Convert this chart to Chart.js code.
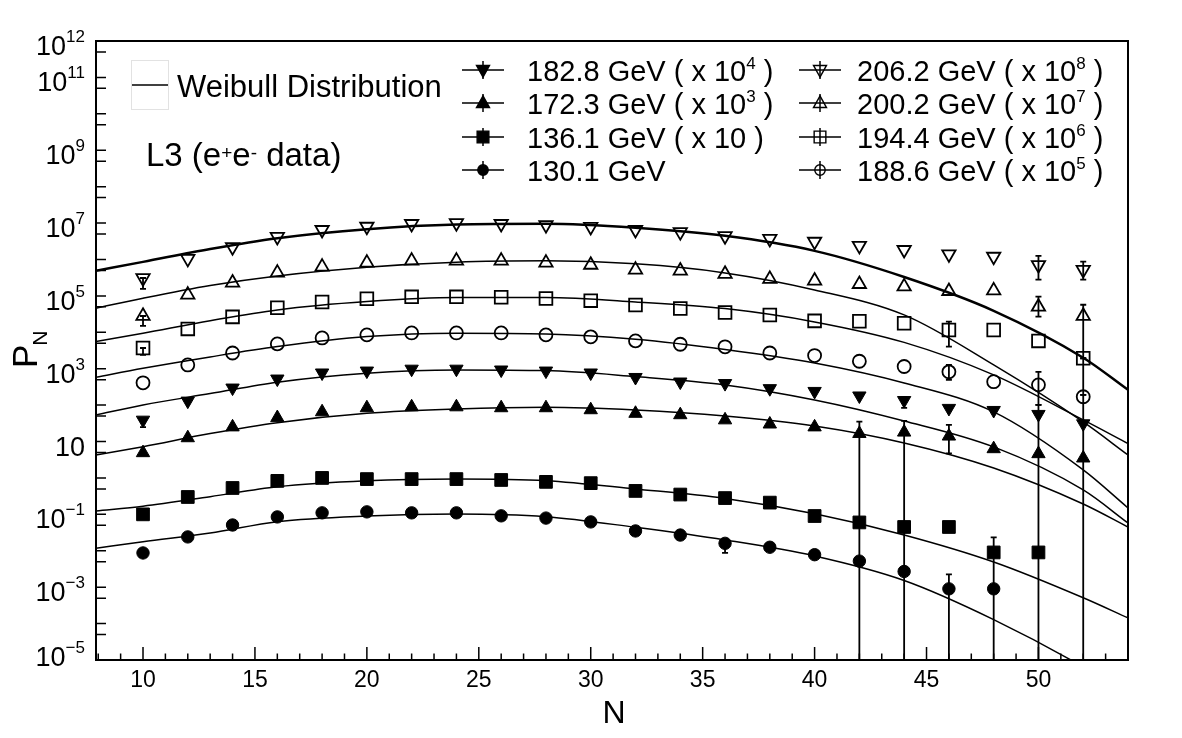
<!DOCTYPE html>
<html>
<head>
<meta charset="utf-8">
<script src="https://cdn.jsdelivr.net/npm/chart.js@4.4.0/dist/chart.umd.min.js"></script>
<style>
  html, body { margin: 0; padding: 0; background: #fff; }
  #wrap { width: 1182px; height: 738px; }
</style>
</head>
<body>
<div id="wrap"><canvas id="chartPN" width="1182" height="738"></canvas></div>
<script>
// multiplicity bins (data points)
const nValues = [10, 12, 14, 16, 18, 20, 22, 24, 26, 28, 30, 32, 34, 36, 38, 40, 42, 44, 46, 48, 50, 52];

// P(N), already multiplied by the legend factor
const p130 = [0.0087, 0.024, 0.051, 0.085, 0.11, 0.117, 0.11, 0.11, 0.091, 0.079, 0.062, 0.035, 0.027, 0.016, 0.0125, 0.0078, 0.0052, 0.0027, 0.0009, 0.0009, null, null];
const p136 = [0.10, 0.30, 0.53, 0.83, 1.0, 0.93, 0.93, 0.93, 0.88, 0.78, 0.72, 0.44, 0.35, 0.28, 0.21, 0.09, 0.06, 0.045, 0.045, 0.009, 0.009, null];
const p172 = [4.9, 12.6, 25, 45, 65, 84, 89, 89, 84, 84, 74, 59, 54, 39, 30, 25, 16.5, 18, 14, 6.3, 4.6, 3.5];
const p182 = [39, 130, 297, 525, 770, 870, 980, 980, 930, 870, 770, 580, 435, 395, 286, 240, 180, 135, 82, 72, 56, 31];
const p188 = [410, 1270, 2700, 4800, 7000, 8500, 9600, 9600, 9600, 8500, 7500, 5800, 4700, 4000, 2700, 2300, 1600, 1150, 820, 440, 360, 170];
const p194 = [3700, 12400, 26500, 47000, 68000, 83000, 94000, 94000, 92000, 85000, 74000, 56000, 45000, 35000, 30000, 20600, 20000, 17800, 11600, 11600, 5800, 1940];
const p200 = [2.8e4, 1.07e5, 2.3e5, 4.3e5, 6.3e5, 8.1e5, 9.2e5, 9.2e5, 9.2e5, 8.1e5, 7.1e5, 5.2e5, 4.9e5, 4.0e5, 2.9e5, 2.6e5, 2.1e5, 1.8e5, 1.35e5, 1.4e5, 5.0e4, 2.8e4];
const p206 = [3.1e5, 1.05e6, 2.2e6, 4.2e6, 6.5e6, 8.0e6, 9.5e6, 1.0e7, 9.5e6, 8.9e6, 7.9e6, 6.5e6, 5.7e6, 4.4e6, 3.7e6, 3.1e6, 2.4e6, 1.84e6, 1.4e6, 1.2e6, 7.1e5, 5.2e5];

// Weibull curves
const fitN = [7.9, 10, 13, 16, 20, 24, 28, 32, 36, 40, 44, 48, 52, 54];
const fit130 = [0.0117, 0.0178, 0.0308, 0.063, 0.0904, 0.1026, 0.0865, 0.044, 0.0198, 0.0072, 0.00153, 1.29e-4, 6.42e-6, 1.09e-6];
const fit136 = [0.124, 0.167, 0.306, 0.577, 0.843, 0.940, 0.843, 0.499, 0.274, 0.104, 0.0272, 0.00492, 5.12e-4, 1.43e-4];
const fit172 = [4.28, 7.24, 16.5, 33.0, 59.9, 78.7, 87.5, 73.8, 50.5, 26.8, 9.16, 1.88, 0.193, 0.045];
const fit182 = [53.8, 101, 207, 426, 752, 927, 887, 607, 359, 139, 36.8, 7.11, 0.468, 0.058];
const fit188 = [585, 1030, 2110, 4050, 7620, 9440, 9040, 6460, 3390, 1440, 407, 65, 1.66, 0.15];
const fit194 = [5560, 9440, 20800, 41200, 69700, 89800, 89800, 68400, 44800, 19300, 5280, 676, 39.2, 8.81];
const fit200 = [4.59e4, 8.65e4, 1.94e5, 3.54e5, 6.14e5, 8.43e5, 9.16e5, 7.57e5, 4.28e5, 1.46e5, 3.0e4, 1270, 34.5, 4.28];
const fit206 = [4.9e5, 8.6e5, 1.95e6, 3.85e6, 6.8e6, 9.1e6, 9.5e6, 7.4e6, 4.45e6, 1.72e6, 3.3e5, 3.9e4, 2000, 263];

// visible error bars: [N, low, high]  (1e-6 = runs below the axis)
const err130 = [[36, 0.0087, 0.021], [46, 1e-6, 0.00226]];
const err136 = [[48, 1e-6, 0.0232]];
const err172 = [[42, 1e-6, 35], [44, 1e-6, 37], [46, 4.7, 28.6]];
const err182 = [[10, 25, 39], [44, 84, 168], [50, 1e-6, 101], [52, 1e-6, 31]];
const err188 = [[46, 492, 1270], [50, 101, 817], [52, 31, 191]];
const err194 = [[10, 2400, 3700], [46, 4050, 19700], [52, 190, 1940]];
const err200 = [[10, 1.5e4, 2.8e4], [50, 2.7e4, 9.5e4], [52, 1940, 5.7e4]];
const err206 = [[10, 1.55e5, 3.1e5], [50, 2.8e5, 1.26e6], [52, 2.8e5, 8.7e5]];

const energies = ['130.1', '136.1', '172.3', '182.8', '188.6', '194.4', '200.2', '206.2'];
const scaleExp = [0, 1, 3, 4, 5, 6, 7, 8];

const yLabelExp = [12, 11, 9, 7, 5, 3, 1, -1, -3, -5];
const xLabels = [10, 15, 20, 25, 30, 35, 40, 45, 50];

const FONT = '"Liberation Sans", Arial, Helvetica, sans-serif';

// marker look per energy (same order as energies)
const markers = [
  { kind: 'circle', filled: true },
  { kind: 'square', filled: true },
  { kind: 'up', filled: true },
  { kind: 'down', filled: true },
  { kind: 'circle', filled: false },
  { kind: 'square', filled: false },
  { kind: 'up', filled: false },
  { kind: 'down', filled: false }
];

const points = [p130, p136, p172, p182, p188, p194, p200, p206];
const fits = [fit130, fit136, fit172, fit182, fit188, fit194, fit200, fit206];
const errs = [err130, err136, err172, err182, err188, err194, err200, err206];

const toXY = (xs, ys) => xs.map((x, i) => ({ x: x, y: ys[i] })).filter(p => p.y != null);

const pointStyleOf = m => {
  if (m.kind === 'circle') return { pointStyle: 'circle', pointRadius: m.filled ? 6.2 : 6.5, pointRotation: 0 };
  if (m.kind === 'square') return { pointStyle: 'rect', pointRadius: 9, pointRotation: 0 };
  return { pointStyle: 'triangle', pointRadius: 7.7, pointRotation: m.kind === 'down' ? 180 : 0 };
};

const datasets = [];
points.forEach((ys, i) => {
  const m = markers[i];
  const st = pointStyleOf(m);
  datasets.push({
    label: energies[i] + ' GeV',
    data: toXY(nValues, ys),
    showLine: false,
    order: 1,
    pointStyle: st.pointStyle,
    pointRadius: st.pointRadius,
    pointRotation: st.pointRotation,
    pointBackgroundColor: m.filled ? '#000' : 'rgba(0,0,0,0)',
    pointBorderColor: '#000',
    pointBorderWidth: m.filled ? 1 : 1.8
  });
});
fits.forEach((ys, i) => {
  datasets.push({
    type: 'line',
    label: 'Weibull ' + energies[i],
    data: toXY(fitN, ys),
    order: 2,
    borderColor: '#000',
    borderWidth: i === 7 ? 2.5 : 1.5,
    pointRadius: 0,
    fill: false,
    cubicInterpolationMode: 'monotone'
  });
});

const errorBars = [].concat(...errs);

function drawRich(c, parts, x, y, size, supSize, supRise, align) {
  let total = 0;
  const widths = parts.map(([t, sup]) => {
    c.font = (sup ? supSize : size) + 'px ' + FONT;
    const w = c.measureText(t).width;
    total += w;
    return w;
  });
  let cx = align === 'right' ? x - total : (align === 'center' ? x - total / 2 : x);
  parts.forEach(([t, sup], i) => {
    c.font = (sup ? supSize : size) + 'px ' + FONT;
    c.fillText(t, cx, sup ? y - supRise : y);
    cx += widths[i];
  });
}

function drawMarker(c, m, x, y, s) {
  c.beginPath();
  if (m.kind === 'circle') {
    c.arc(x, y, s * 0.8, 0, Math.PI * 2);
  } else if (m.kind === 'square') {
    c.rect(x - s * 0.9, y - s * 0.9, 1.8 * s, 1.8 * s);
  } else {
    const d = m.kind === 'down' ? -1 : 1;
    c.moveTo(x, y - d * s * 1.1);
    c.lineTo(x + s, y + d * s * 0.7);
    c.lineTo(x - s, y + d * s * 0.7);
    c.closePath();
  }
  if (m.filled) { c.fillStyle = '#000'; c.fill(); }
  c.lineWidth = 1.4;
  c.strokeStyle = '#000';
  c.stroke();
}

const errorBarPlugin = {
  id: 'errorBars',
  beforeDatasetsDraw(chart) {
    const { ctx: c, chartArea: a, scales: { x, y } } = chart;
    c.save();
    c.beginPath();
    c.rect(a.left, a.top, a.right - a.left, a.bottom - a.top);
    c.clip();
    c.strokeStyle = '#000';
    c.lineWidth = 1.8;
    errorBars.forEach(([n, lo, hi]) => {
      const px = x.getPixelForValue(n);
      const p1 = y.getPixelForValue(lo);
      const p2 = y.getPixelForValue(hi);
      c.beginPath();
      c.moveTo(px, p1); c.lineTo(px, p2);
      c.moveTo(px - 3, p1); c.lineTo(px + 3, p1);
      c.moveTo(px - 3, p2); c.lineTo(px + 3, p2);
      c.stroke();
    });
    c.restore();
  }
};

const framePlugin = {
  id: 'frame',
  afterDatasetsDraw(chart) {
    const { ctx: c, chartArea: a, scales: { x, y } } = chart;
    c.save();
    c.strokeStyle = '#000';
    c.lineWidth = 2;
    c.strokeRect(a.left, a.top, a.right - a.left, a.bottom - a.top);

    c.lineWidth = 1.5;
    c.beginPath();
    for (let n = Math.ceil(x.min); n <= x.max; n++) {
      const px = x.getPixelForValue(n);
      const len = n % 5 === 0 ? 13 : 6.5;
      c.moveTo(px, a.bottom); c.lineTo(px, a.bottom - len);
    }
    for (let e = -5; e <= 12; e++) {
      [1, 5].forEach(m => {
        const v = m * Math.pow(10, e);
        if (v < y.min * 0.999 || v > y.max * 1.001) return;
        const py = y.getPixelForValue(v);
        c.moveTo(a.left, py); c.lineTo(a.left + 10, py);
      });
    }
    c.stroke();

    c.fillStyle = '#000';
    c.textBaseline = 'alphabetic';
    // y labels
    yLabelExp.forEach(e => {
      const py = y.getPixelForValue(Math.pow(10, e));
      const base = e === -5 ? py + 6 : py + 14;
      const parts = [['10', false]];
      if (e !== 1) parts.push([e < 0 ? '\u2212' + (-e) : String(e), true]);
      drawRich(c, parts, 85, base, 27, 17, 13, 'right');
    });
    // x labels
    xLabels.forEach(n => {
      drawRich(c, [[String(n), false]], x.getPixelForValue(n), 687, 23, 14, 0, 'center');
    });
    // axis titles
    drawRich(c, [['N', false]], 614, 723, 32, 20, 0, 'center');
    c.save();
    c.translate(37, 368);
    c.rotate(-Math.PI / 2);
    c.font = '35px ' + FONT;
    c.fillText('P', 0, 0);
    const pw = c.measureText('P').width;
    c.font = '21px ' + FONT;
    c.fillText('N', pw - 1, 10);
    c.restore();
    c.restore();
  }
};

const legendPlugin = {
  id: 'legendBox',
  afterDraw(chart) {
    const c = chart.ctx;
    c.save();
    c.textBaseline = 'alphabetic';
    c.fillStyle = '#000';
    // Weibull entry
    c.strokeStyle = '#e2e2e2';
    c.lineWidth = 1;
    c.strokeRect(131.5, 60.5, 37, 49);
    c.strokeStyle = '#000';
    c.lineWidth = 1.5;
    c.beginPath(); c.moveTo(132, 85); c.lineTo(168, 85); c.stroke();
    drawRich(c, [['Weibull Distribution', false]], 177, 97, 31, 17, 0, 'left');
    drawRich(c, [['L3 (e', false], ['+', true], ['e', false], ['-', true], [' data)', false]], 146, 166, 33, 19, 7, 'left');

    // energy entries: two columns, high factor first
    const col1 = [3, 2, 1, 0];
    const col2 = [7, 6, 5, 4];
    const rowY = [70, 103, 137, 170];
    const drawEntry = (idx, mx, tx, ry) => {
      c.strokeStyle = '#000';
      c.lineWidth = 1.5;
      c.beginPath();
      c.moveTo(mx - 21, ry); c.lineTo(mx + 21, ry);
      c.moveTo(mx, ry - 9); c.lineTo(mx, ry + 9);
      c.stroke();
      drawMarker(c, markers[idx], mx, ry, 6.5);
      c.fillStyle = '#000';
      const k = scaleExp[idx];
      let parts;
      if (k === 0) parts = [[energies[idx] + ' GeV', false]];
      else if (k === 1) parts = [[energies[idx] + ' GeV ( x 10 )', false]];
      else parts = [[energies[idx] + ' GeV ( x 10', false], [String(k), true], [' )', false]];
      drawRich(c, parts, tx, ry + 11, 29, 17, 12, 'left');
    };
    col1.forEach((idx, r) => drawEntry(idx, 483, 527, rowY[r]));
    col2.forEach((idx, r) => drawEntry(idx, 820, 857, rowY[r]));
    c.restore();
  }
};

const chartPN = new Chart(document.getElementById('chartPN').getContext('2d'), {
  type: 'scatter',
  data: { datasets: datasets },
  options: {
    responsive: false,
    animation: false,
    events: [],
    devicePixelRatio: 1,
    layout: { padding: { left: 96, top: 41, right: 54, bottom: 78 } },
    scales: {
      x: { type: 'linear', min: 7.9, max: 54, display: false },
      y: { type: 'logarithmic', min: 1e-5, max: 1e12, display: false }
    },
    plugins: {
      legend: { display: false },
      tooltip: { enabled: false }
    }
  },
  plugins: [errorBarPlugin, framePlugin, legendPlugin]
});
</script>
</body>
</html>
